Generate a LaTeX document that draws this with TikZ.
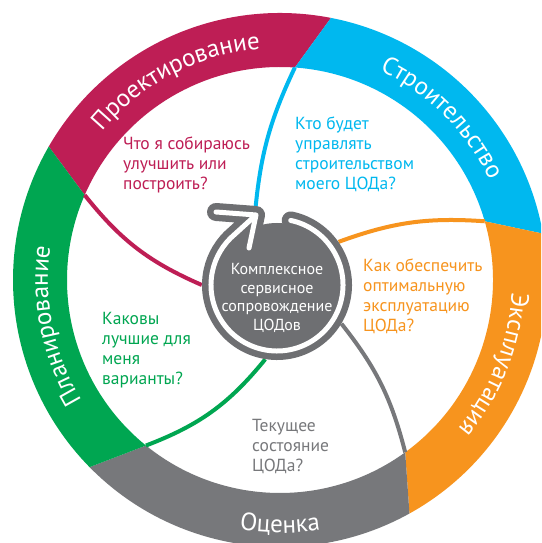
\documentclass[tikz,border=0pt]{standalone}
\usepackage{fontspec}
\setmainfont{PT Sans}
\usepackage{tikz}
\usetikzlibrary{decorations.text}

\definecolor{planGreen}{RGB}{0,166,81}
\definecolor{projRed}{RGB}{190,30,85}
\definecolor{buildBlue}{RGB}{0,184,239}
\definecolor{opsOrange}{RGB}{247,148,30}
\definecolor{evalGray}{RGB}{119,120,123}
\definecolor{hubGray}{RGB}{110,111,114}

\newcommand\ringfont{\fontsize{25}{25}\selectfont}
\newcommand\qfont{\fontsize{17.5}{20}\selectfont}
\newcommand\hubfont{\fontsize{16}{18.5}\selectfont}

\begin{document}
\begin{tikzpicture}[x=1pt, y=1pt,
    quest/.style={align=left, anchor=north west, inner sep=0, font=\qfont},
    spoke/.style={line width=4},
    ringtext/.style={decorate, decoration={text along path, text align=center,
      text={|\ringfont\color{white}|#1}}}
    ]
    \useasboundingbox (0,0) rectangle (541,543);
    \clip (0,0) rectangle (541,543);
    \fill[white] (0,0) rectangle (541,543);

    \begin{scope}[shift={(280,263)}]
    \foreach \oa/\ia/\ob/\ib/\col in {150/156.5/79/86/projRed, 79/86/10/16/buildBlue,
        10/16/-61/-54/opsOrange, -61/-54/-135.5/-129/evalGray, 224.5/231/150/156.5/planGreen}
      \fill[\col] (\ia:213) -- (\oa:267) arc[start angle=\oa, end angle=\ob, radius=267]
        -- (\ib:213) arc[start angle=\ib, end angle=\ia, radius=213] -- cycle;
    \coordinate (pm) at (156.5:213);
    \coordinate (pb) at (86:213);
    \coordinate (po) at (16:213);
    \coordinate (pe) at (-54:213);
    \coordinate (pp) at (231:213);

    \path[ringtext=Проектирование] (157.5:232) arc[start angle=157.5, end angle=77.5, radius=232];
    \path[ringtext=Строительство] (85:232) arc[start angle=85, end angle=5, radius=232];
    \path[ringtext=Эксплуатация] (18.5:232) arc[start angle=18.5, end angle=-61.5, radius=232];
    \path[ringtext=Оценка] (-115:253) arc[start angle=-115, end angle=-65, radius=253];
    \path[ringtext=Планирование] (231.5:232) arc[start angle=231.5, end angle=151.5, radius=232];
    \end{scope}

    \node[circle, minimum size=150, inner sep=0] (hub) at (277,258) {};

    \draw[spoke, projRed] (pm) to[bend right=14] (hub.180);
    \draw[spoke, buildBlue] (pb) to[bend right=10] (hub.107);
    \draw[spoke, opsOrange] (po) to[bend right=12] (hub.35);
    \draw[spoke, evalGray] (pe) to[bend right=12] (hub.-31);
    \draw[spoke, planGreen] (pp) to[bend right=15] (hub.261);

    \fill[hubGray] (hub.center) circle[radius=62];
    \foreach \w/\c in {18/hubGray, 5/white}
      \draw[\c, line width=\w, line cap=round, line join=round]
        ([shift={(78:66)}]hub.center) arc[start angle=78, end angle=-230, radius=66]
        -- ([shift={(-21,70)}]hub.center)
        ([shift={(-61,73)}]hub.center) -- ([shift={(-21,70)}]hub.center)
        -- ([shift={(-28,37)}]hub.center);
    \node[font=\hubfont, text=white, align=center] (hubtxt) at ([yshift=-13]hub.center)
      {Комплексное\\сервисное\\сопровождение\\ЦОДов};

    \node[quest, text=projRed] (qproj) at (123,406) {Что я собираюсь\\улучшить или\\построить?};
    \node[quest, text=buildBlue] (qbuild) at (295,426) {Кто будет\\управлять\\строительством\\моего ЦОДа?};
    \node[quest, text=opsOrange] (qops) at (363,284) {Как обеспечить\\оптимальную\\эксплуатацию\\ЦОДа?};
    \node[quest, text=evalGray] (qeval) at (252,124) {Текущее\\состояние\\ЦОДа?};
    \node[quest, text=planGreen] (qplan) at (102,231) {Каковы\\лучшие для\\меня\\варианты?};
\end{tikzpicture}
\end{document}
